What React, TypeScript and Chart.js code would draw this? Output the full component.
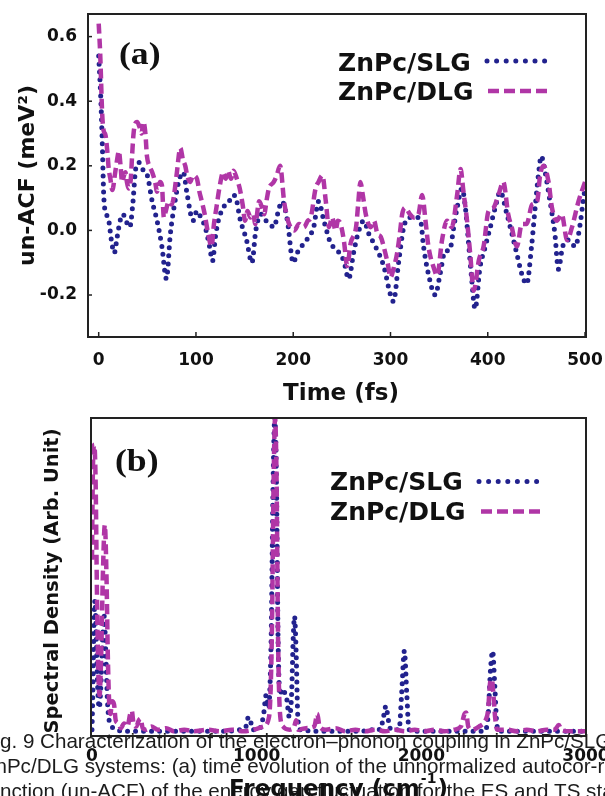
import React, { useEffect, useRef } from 'react';
import { Chart, registerables } from 'chart.js';
Chart.register(...registerables);

// ---------- Panel (a): un-ACF vs time ----------
const SLG_TIME = [0, 2, 3.6, 5.3, 8, 10.4, 13, 16, 19, 22, 25, 28, 32, 35, 38, 41.5, 45, 50, 55, 60, 65, 69.6, 73.7, 79, 83, 87, 91, 97, 101, 105, 109.5, 114, 117, 120, 123, 130, 134, 138.6, 142, 145, 152, 157.5, 161.5, 166.7, 172, 176, 180, 185.5, 188.5, 194, 200, 204, 211, 216, 221, 226, 231.5, 238.5, 245, 252, 257, 262, 267, 272.6, 277.6, 284.6, 293, 300, 303, 308.5, 313.6, 320.5, 327, 331, 334, 339, 346, 351, 356, 361, 365, 368.5, 373.5, 377, 380, 383, 387, 392, 397, 402.6, 407.6, 412.8, 419.7, 424.8, 430, 435, 440, 445, 448.7, 452, 455, 459, 464, 469, 472.6, 477, 483, 490, 495, 498, 500];
const SLG_ACF = [0.54, 0.42, 0.28, 0.1, 0.05, 0.03, -0.03, -0.07, -0.02, 0.03, 0.05, 0.03, 0.01, 0.08, 0.19, 0.21, 0.19, 0.17, 0.09, 0.03, -0.05, -0.15, -0.01, 0.1, 0.16, 0.18, 0.11, 0.03, 0.06, 0.04, 0.01, -0.05, -0.095, -0.02, 0.03, 0.08, 0.09, 0.11, 0.09, 0.04, -0.03, -0.1, 0.0, 0.05, 0.03, 0.02, 0.01, 0.07, 0.09, 0.03, -0.1, -0.07, -0.04, -0.02, 0.01, 0.09, 0.03, -0.04, -0.06, -0.095, -0.15, -0.07, -0.005, 0.03, -0.01, -0.05, -0.11, -0.2, -0.22, -0.095, 0.01, 0.04, 0.04, 0.03, -0.05, -0.135, -0.2, -0.135, -0.065, -0.06, 0.01, 0.07, 0.13, 0.07, -0.03, -0.135, -0.243, -0.115, -0.055, 0.01, 0.07, 0.12, 0.05, -0.01, -0.074, -0.135, -0.166, -0.05, 0.07, 0.17, 0.23, 0.18, 0.09, -0.01, -0.12, -0.05, -0.03, -0.05, 0.02, 0.09, 0.13];

const DLG_TIME = [0, 1.5, 3.6, 5, 7, 9, 10.3, 12, 14, 17, 19, 20.7, 22.5, 24, 26, 27.5, 29, 31, 33, 34.5, 36, 39.5, 42, 44, 46, 48, 49.6, 52, 55, 58, 60, 63, 65, 67, 69, 72, 75, 77, 80, 84, 86.5, 89, 91, 94, 97, 101, 103.5, 106, 109, 112.5, 116, 118.5, 121, 124, 128, 130.5, 133, 136, 138.6, 142, 145, 148, 150.5, 153, 156, 159, 161, 165, 168, 170, 173, 175, 180, 183, 186.5, 190.6, 193, 195.7, 201, 206, 211, 215, 218, 223, 226, 230, 233.5, 236.7, 240, 243.5, 246, 248.7, 252, 255.6, 259, 264.6, 267, 269, 271.5, 274.6, 279.7, 283, 286.5, 290, 293, 297, 300, 303, 306.8, 310, 312, 315, 320, 323.6, 328.7, 332.5, 336, 339, 344.4, 348, 353, 358, 363, 368.5, 372, 375, 378.7, 382, 385.5, 391, 395.7, 400.8, 405.8, 411, 416, 421, 424.6, 430, 435, 440, 445.6, 450.8, 453.8, 457.3, 462.5, 466, 471, 476, 481.6, 486.6, 493.3, 500];
const DLG_ACF = [0.64, 0.55, 0.36, 0.31, 0.295, 0.24, 0.19, 0.16, 0.125, 0.18, 0.22, 0.245, 0.2, 0.15, 0.17, 0.18, 0.15, 0.13, 0.16, 0.24, 0.305, 0.336, 0.32, 0.3, 0.336, 0.3, 0.23, 0.2, 0.18, 0.15, 0.12, 0.15, 0.14, 0.04, 0.06, 0.09, 0.08, 0.1, 0.17, 0.255, 0.22, 0.2, 0.17, 0.15, 0.17, 0.16, 0.12, 0.09, 0.05, -0.01, -0.05, 0.02, 0.07, 0.13, 0.18, 0.16, 0.185, 0.16, 0.185, 0.16, 0.13, 0.08, 0.03, 0.06, 0.04, 0.05, 0.02, 0.09, 0.07, 0.05, 0.1, 0.13, 0.15, 0.17, 0.2, 0.09, 0.05, 0.02, 0.0, 0.02, 0.01, 0.03, 0.04, 0.13, 0.15, 0.17, 0.09, 0.01, 0.04, 0.0, 0.03, 0.02, -0.03, -0.11, -0.04, 0.01, 0.09, 0.15, 0.11, 0.05, 0.01, 0.03, -0.01, -0.02, -0.05, -0.1, -0.145, -0.12, -0.07, 0.0, 0.05, 0.07, 0.05, 0.04, 0.05, 0.11, 0.03, -0.05, -0.115, -0.14, -0.03, 0.03, 0.01, 0.11, 0.19, 0.12, 0.03, -0.074, -0.187, -0.09, -0.05, 0.06, 0.07, 0.11, 0.15, 0.05, 0.01, -0.05, 0.02, 0.02, 0.08, 0.09, 0.17, 0.2, 0.15, 0.07, 0.03, 0.05, -0.03, 0.01, 0.09, 0.15];

const TIME_TICKS = [0, 100, 200, 300, 400, 500];
const ACF_TICKS = [-0.2, 0, 0.2, 0.4, 0.6];

// ---------- Panel (b): spectral density vs frequency ----------
const SLG_FREQ = [0, 6, 12, 18, 26, 34, 44, 54, 64, 74, 84, 94, 104, 120, 150, 200, 400, 600, 800, 900, 935, 950, 962, 975, 1010, 1040, 1058, 1072, 1088, 1100, 1110, 1120, 1130, 1142, 1155, 1168, 1182, 1198, 1212, 1222, 1230, 1240, 1250, 1265, 1400, 1600, 1700, 1722, 1750, 1770, 1785, 1800, 1815, 1865, 1880, 1897, 1912, 1925, 2000, 2200, 2380, 2405, 2420, 2433, 2446, 2458, 2475, 2700, 3000];
const SLG_SD = [0.01, 0.15, 0.35, 0.42, 0.3, 0.15, 0.08, 0.15, 0.3, 0.37, 0.25, 0.1, 0.04, 0.02, 0.01, 0.005, 0.005, 0.005, 0.005, 0.01, 0.02, 0.05, 0.04, 0.01, 0.01, 0.05, 0.12, 0.08, 0.3, 0.8, 1.0, 0.8, 0.3, 0.12, 0.14, 0.13, 0.11, 0.05, 0.12, 0.3, 0.37, 0.25, 0.05, 0.01, 0.005, 0.005, 0.01, 0.015, 0.01, 0.05, 0.085, 0.04, 0.01, 0.01, 0.12, 0.26, 0.12, 0.01, 0.005, 0.005, 0.005, 0.05, 0.2, 0.26, 0.15, 0.03, 0.005, 0.005, 0.005];

const DLG_FREQ = [0, 6, 14, 22, 30, 38, 46, 56, 66, 78, 88, 96, 104, 112, 122, 134, 144, 160, 175, 195, 215, 232, 242, 252, 268, 285, 295, 308, 330, 360, 400, 450, 500, 560, 620, 700, 780, 850, 920, 980, 1040, 1075, 1092, 1103, 1112, 1121, 1130, 1142, 1160, 1200, 1228, 1240, 1252, 1300, 1350, 1368, 1382, 1420, 1480, 1540, 1600, 1660, 1720, 1780, 1840, 1900, 1960, 2020, 2080, 2140, 2200, 2240, 2262, 2272, 2285, 2310, 2350, 2390, 2405, 2418, 2428, 2438, 2448, 2460, 2520, 2580, 2640, 2700, 2760, 2810, 2835, 2850, 2900, 2960, 3000];
const DLG_SD = [0.55, 0.85, 0.915, 0.8, 0.45, 0.2, 0.12, 0.25, 0.5, 0.66, 0.5, 0.25, 0.1, 0.06, 0.1, 0.09, 0.04, 0.03, 0.015, 0.03, 0.02, 0.06, 0.07, 0.03, 0.02, 0.04, 0.045, 0.015, 0.01, 0.02, 0.01, 0.015, 0.005, 0.01, 0.005, 0.01, 0.005, 0.01, 0.005, 0.01, 0.02, 0.05, 0.3, 0.8, 1.0, 0.8, 0.3, 0.06, 0.02, 0.01, 0.02, 0.04, 0.01, 0.015, 0.02, 0.06, 0.02, 0.01, 0.015, 0.005, 0.01, 0.005, 0.01, 0.005, 0.01, 0.005, 0.01, 0.005, 0.01, 0.005, 0.01, 0.02, 0.06, 0.065, 0.02, 0.01, 0.02, 0.04, 0.07, 0.16, 0.17, 0.12, 0.05, 0.01, 0.01, 0.005, 0.01, 0.005, 0.01, 0.01, 0.025, 0.01, 0.005, 0.005, 0.005];

const FREQ_TICKS = [0, 1000, 2000, 3000];
const SERIES_NAMES = ['ZnPc/SLG', 'ZnPc/DLG'];

const CAPTION = [
  'Fig. 9 Characterization of the electron\u2013phonon coupling in ZnPc/SLG and',
  'ZnPc/DLG systems: (a) time evolution of the unnormalized autocor-relation',
  'function (un-ACF) of the energy gap fluctuation for the ES and TS states',
];

const BLUE = '#22228e';
const MAGENTA = '#b036a6';
const INK = '#111111';
const SANS = "'DejaVu Sans', Verdana, sans-serif";
const SERIF = "'Liberation Serif', 'Times New Roman', serif";

function toXY(xs: number[], ys: number[]) {
  return xs.map((x, i) => ({ x, y: ys[i] }));
}

function dotted(label: string, data: any[]) {
  return {
    label, data, borderColor: BLUE, borderWidth: 5, borderDash: [0, 8], borderCapStyle: 'round',
    pointRadius: 0, fill: false, tension: 0, cubicInterpolationMode: 'monotone',
  };
}
function dashed(label: string, data: any[]) {
  return {
    label, data, borderColor: MAGENTA, borderWidth: 4.5, borderDash: [10, 5], borderCapStyle: 'butt',
    pointRadius: 0, fill: false, tension: 0, cubicInterpolationMode: 'monotone',
  };
}

function drawSample(ctx: CanvasRenderingContext2D, x1: number, x2: number, y: number, kind: 'dot' | 'dash') {
  ctx.save();
  ctx.beginPath();
  ctx.moveTo(x1, y);
  ctx.lineTo(x2, y);
  if (kind === 'dot') {
    ctx.strokeStyle = BLUE; ctx.lineWidth = 5; ctx.lineCap = 'round'; ctx.setLineDash([0, 9.6]);
  } else {
    ctx.strokeStyle = MAGENTA; ctx.lineWidth = 4.5; ctx.lineCap = 'butt'; ctx.setLineDash([11, 5]);
  }
  ctx.stroke();
  ctx.restore();
}

function drawLegend(ctx: CanvasRenderingContext2D, textX: number, base1: number, base2: number,
  dotX1: number, dotX2: number, dotY: number, dashX1: number, dashX2: number, dashY: number) {
  ctx.save();
  ctx.fillStyle = INK;
  ctx.font = `bold 25px ${SANS}`;
  ctx.textAlign = 'left';
  ctx.textBaseline = 'alphabetic';
  ctx.fillText(SERIES_NAMES[0], textX, base1);
  ctx.fillText(SERIES_NAMES[1], textX, base2);
  ctx.restore();
  drawSample(ctx, dotX1, dotX2, dotY, 'dot');
  drawSample(ctx, dashX1, dashX2, dashY, 'dash');
}

function drawPanelLabel(ctx: CanvasRenderingContext2D, text: string, x: number, base: number) {
  ctx.save();
  ctx.translate(x, base);
  ctx.scale(1.15, 1);
  ctx.fillStyle = INK;
  ctx.font = `bold 31px ${SERIF}`;
  ctx.textAlign = 'left';
  ctx.textBaseline = 'alphabetic';
  ctx.fillText(text, 0, 0);
  ctx.restore();
}

function drawBox(chart: any) {
  const { ctx } = chart;
  const { left, right, top, bottom } = chart.chartArea;
  ctx.save();
  ctx.strokeStyle = '#222';
  ctx.lineWidth = 2;
  ctx.strokeRect(left, top, right - left, bottom - top);
  ctx.restore();
}

function drawRotated(ctx: CanvasRenderingContext2D, text: string, x: number, y: number, size: number) {
  ctx.save();
  ctx.translate(x, y);
  ctx.rotate(-Math.PI / 2);
  ctx.fillStyle = INK;
  ctx.font = `bold ${size}px ${SANS}`;
  ctx.textAlign = 'center';
  ctx.textBaseline = 'alphabetic';
  ctx.fillText(text, 0, 0);
  ctx.restore();
}

const panelAPlugin = {
  id: 'panelA',
  afterDraw(chart: any) {
    const { ctx } = chart;
    const { left, right, top, bottom } = chart.chartArea;
    drawBox(chart);
    ctx.save();
    ctx.strokeStyle = '#222';
    ctx.lineWidth = 1.5;
    const xs = chart.scales.x;
    const ys = chart.scales.y;
    TIME_TICKS.forEach((v) => {
      const px = xs.getPixelForValue(v);
      ctx.beginPath(); ctx.moveTo(px, bottom); ctx.lineTo(px, bottom - 5); ctx.stroke();
    });
    ACF_TICKS.forEach((v) => {
      const py = ys.getPixelForValue(v);
      ctx.beginPath(); ctx.moveTo(left, py); ctx.lineTo(left + 4, py); ctx.stroke();
    });
    ctx.restore();
    drawPanelLabel(ctx, '(a)', 119, 64);
    drawLegend(ctx, 338, 70.5, 100, 487, 553, 61, 488, 548, 91);
    ctx.save();
    ctx.fillStyle = INK;
    ctx.font = `bold 23px ${SANS}`;
    ctx.textAlign = 'center';
    ctx.textBaseline = 'alphabetic';
    ctx.fillText('Time (fs)', (left + right) / 2 + 4, 400);
    ctx.restore();
    drawRotated(ctx, 'un-ACF (meV\u00B2)', 33.5, (top + bottom) / 2, 22);
  },
};

const panelBPlugin = {
  id: 'panelB',
  afterDraw(chart: any) {
    const { ctx } = chart;
    const { left, right, top, bottom } = chart.chartArea;
    drawBox(chart);
    drawPanelLabel(ctx, '(b)', 115, 61);
    drawLegend(ctx, 330, 80, 109.5, 479, 545, 71.5, 481, 541, 101.5);
    drawRotated(ctx, 'Spectral Density (Arb. Unit)', 57.5, (top + bottom) / 2 + 4, 19.5);
    // caption overlay
    ctx.save();
    ctx.fillStyle = '#1c1c1c';
    ctx.font = "20.6px 'Liberation Sans', Arial, sans-serif";
    ctx.textAlign = 'left';
    ctx.textBaseline = 'alphabetic';
    const startX = -ctx.measureText('Fi').width;
    CAPTION.forEach((line, i) => ctx.fillText(line, startX, 338 + i * 25));
    ctx.restore();
    // x-axis title with superscript
    ctx.save();
    ctx.fillStyle = INK;
    ctx.textBaseline = 'alphabetic';
    ctx.textAlign = 'left';
    const main = 'Frequency (cm';
    const sup = '-1';
    const close = ')';
    ctx.font = `bold 23px ${SANS}`;
    const wMain = ctx.measureText(main).width;
    const wClose = ctx.measureText(close).width;
    ctx.font = `bold 14px ${SANS}`;
    const wSup = ctx.measureText(sup).width;
    const total = wMain + wSup + 2 + wClose;
    let x = (left + right) / 2 - total / 2;
    const base = 386;
    ctx.font = `bold 23px ${SANS}`;
    ctx.fillText(main, x, base);
    x += wMain + 1;
    ctx.font = `bold 14px ${SANS}`;
    ctx.fillText(sup, x, base - 13);
    x += wSup + 1;
    ctx.font = `bold 23px ${SANS}`;
    ctx.fillText(close, x, base);
    ctx.restore();
  },
};

function tickFont() {
  return { family: SANS, size: 17, weight: 'bold' as const };
}

export default function App() {
  const refA = useRef<HTMLCanvasElement | null>(null);
  const refB = useRef<HTMLCanvasElement | null>(null);

  useEffect(() => {
    if (!refA.current || !refB.current) return;

    const chartA = new Chart(refA.current, {
      type: 'line',
      data: {
        datasets: [
          dashed(SERIES_NAMES[1], toXY(DLG_TIME, DLG_ACF)) as any,
          dotted(SERIES_NAMES[0], toXY(SLG_TIME, SLG_ACF)) as any,
        ],
      },
      options: {
        animation: false,
        responsive: false,
        devicePixelRatio: 1,
        events: [],
        layout: { padding: { top: 14, right: 19, left: 0, bottom: 0 } },
        plugins: { legend: { display: false }, tooltip: { enabled: false } },
        scales: {
          x: {
            type: 'linear', min: -11, max: 501,
            grid: { display: false, drawTicks: false }, border: { display: false },
            ticks: { font: tickFont(), color: INK, padding: 13, maxRotation: 0, autoSkip: false,
              callback: (v: any) => String(v) },
            afterBuildTicks: (s: any) => { s.ticks = TIME_TICKS.map((v) => ({ value: v })); },
            afterFit: (s: any) => { s.height = 73; s.paddingLeft = 0; s.paddingRight = 0; },
          },
          y: {
            type: 'linear', min: -0.33, max: 0.67,
            grid: { display: false, drawTicks: false }, border: { display: false },
            ticks: { font: tickFont(), color: INK, padding: 11, autoSkip: false,
              callback: (v: any) => Number(v).toFixed(1) },
            afterBuildTicks: (s: any) => { s.ticks = ACF_TICKS.map((v) => ({ value: v })); },
            afterFit: (s: any) => { s.width = 88; s.paddingTop = 0; s.paddingBottom = 0; },
          },
        },
      } as any,
      plugins: [panelAPlugin],
    });

    const chartB = new Chart(refB.current, {
      type: 'line',
      data: {
        datasets: [
          dashed(SERIES_NAMES[1], toXY(DLG_FREQ, DLG_SD)) as any,
          dotted(SERIES_NAMES[0], toXY(SLG_FREQ, SLG_SD)) as any,
        ],
      },
      options: {
        animation: false,
        responsive: false,
        devicePixelRatio: 1,
        events: [],
        layout: { padding: { top: 8, right: 19, left: 91, bottom: 0 } },
        plugins: { legend: { display: false }, tooltip: { enabled: false } },
        scales: {
          x: {
            type: 'linear', min: -6, max: 3000,
            grid: { display: false, drawTicks: false }, border: { display: false },
            ticks: { font: tickFont(), color: INK, padding: 10, maxRotation: 0, autoSkip: false,
              callback: (v: any) => String(v) },
            afterBuildTicks: (s: any) => { s.ticks = FREQ_TICKS.map((v) => ({ value: v })); },
            afterFit: (s: any) => { s.height = 60; s.paddingLeft = 0; s.paddingRight = 0; },
          },
          y: { type: 'linear', min: -0.01, max: 1.0, display: false },
        },
      } as any,
      plugins: [panelBPlugin],
    });

    return () => { chartA.destroy(); chartB.destroy(); };
  }, []);

  return (
    <div style={{ position: 'absolute', left: 0, top: 0, width: 605, height: 796, overflow: 'hidden', background: '#fff' }}>
      <canvas ref={refA} width={605} height={410} style={{ position: 'absolute', left: 0, top: 0, width: 605, height: 410 }} />
      <canvas ref={refB} width={605} height={386} style={{ position: 'absolute', left: 0, top: 410, width: 605, height: 386 }} />
    </div>
  );
}
